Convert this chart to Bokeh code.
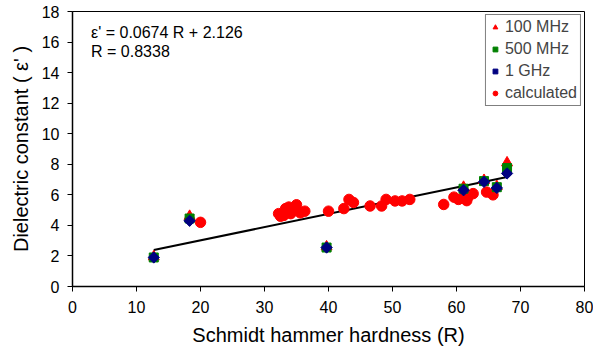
import math
from bokeh.plotting import figure
from bokeh.models import Legend, LegendItem, FixedTicker, Range1d
from bokeh.core.properties import value
from bokeh.embed import file_html
from bokeh.resources import INLINE

# measured dielectric constant at three frequencies
meas_x = [12.7, 18.3, 39.7, 61.1, 64.3, 66.3, 67.9]
mhz100_y = [1.95, 4.6, 2.6, 6.5, 6.95, 6.55, 8.1]
mhz500_y = [1.9, 4.45, 2.55, 6.4, 6.9, 6.5, 7.75]
ghz1_y = [1.9, 4.3, 2.55, 6.3, 6.85, 6.45, 7.4]

# calculated values
calc_x = [20.0, 32.2, 32.5, 33.0, 33.3, 33.8, 34.1, 34.6, 35.0, 35.6, 36.3, 40.0,
          42.4, 43.2, 43.9, 46.5, 48.3, 49.0, 50.4, 51.5, 52.7, 58.0, 59.6, 60.3,
          61.1, 61.4, 61.6, 61.8, 62.6, 64.7, 65.7]
calc_y = [4.2, 4.77, 4.6, 4.65, 5.1, 5.2, 4.77, 5.0, 5.35, 4.82, 4.93, 4.93,
          5.1, 5.7, 5.5, 5.27, 5.27, 5.7, 5.6, 5.6, 5.7, 5.37, 5.85, 5.7,
          5.76, 6.08, 5.62, 5.85, 6.08, 6.18, 6.0]

# trend line as drawn
fit_x = [12.7, 67.9]
fit_y = [2.39, 7.17]

x_ticks = [0, 10, 20, 30, 40, 50, 60, 70, 80]
y_ticks = [0, 2, 4, 6, 8, 10, 12, 14, 16, 18]

eq_lines = ["\u03b5' = 0.0674 R + 2.126", "R = 0.8338"]

FONT = "Liberation Sans"

p = figure(width=593, height=352, output_backend="svg", toolbar_location=None,
           x_range=Range1d(0, 80), y_range=Range1d(0, 18),
           min_border_left=72, min_border_right=9, min_border_top=11, min_border_bottom=66)
p.xgrid.visible = False
p.ygrid.visible = False
p.outline_line_color = "black"
p.outline_line_width = 1

for ax in (p.xaxis[0], p.yaxis[0]):
    ax.axis_line_color = "black"
    ax.axis_line_width = 1.5
    ax.major_tick_in = 0
    ax.major_tick_out = 5
    ax.minor_tick_in = 0
    ax.minor_tick_out = 0
    ax.major_tick_line_color = "black"
    ax.major_label_text_font = FONT
    ax.major_label_text_font_size = "16px"
    ax.major_label_text_color = "black"
    ax.axis_label_text_font = FONT
    ax.axis_label_text_font_size = "20px"
    ax.axis_label_text_font_style = "normal"
    ax.axis_label_text_color = "black"

p.xaxis.ticker = FixedTicker(ticks=x_ticks)
p.yaxis.ticker = FixedTicker(ticks=y_ticks)
p.xaxis.axis_label = "Schmidt hammer hardness (R)"
p.yaxis.axis_label = "Dielectric constant ( \u03b5' )"
p.xaxis.major_label_standoff = 9
p.yaxis.major_label_standoff = 8
p.xaxis.axis_label_standoff = 8
p.yaxis.axis_label_standoff = 7

p.line(fit_x, fit_y, line_color="black", line_width=2)

r_calc = p.scatter(calc_x, calc_y, marker="circle", size=10.5, fill_color="red", line_color="red")
r100 = p.scatter(meas_x, mhz100_y, marker="triangle", size=11, fill_color="red", line_color="red")
r500 = p.scatter(meas_x, mhz500_y, marker="square", size=9, fill_color="green", line_color="green")
r1g = p.scatter(meas_x, ghz1_y, marker="square", angle=math.pi / 4, size=8,
                fill_color="navy", line_color="navy")

p.text(x=[2.9, 2.9], y=[16.63, 15.39], text=eq_lines, text_font=value(FONT),
       text_font_size="16px", text_baseline="middle", text_align="left", text_color="black")

legend = Legend(items=[
    LegendItem(label="100 MHz", renderers=[r100]),
    LegendItem(label="500 MHz", renderers=[r500]),
    LegendItem(label="1 GHz", renderers=[r1g]),
    LegendItem(label="calculated", renderers=[r_calc]),
], location="top_right")
legend.label_text_font = FONT
legend.label_text_font_size = "16px"
legend.label_height = 18
legend.glyph_width = 12
legend.glyph_height = 18
legend.spacing = 4
legend.padding = 3
legend.margin = 3
legend.label_standoff = 4
legend.border_line_color = "black"
legend.border_line_width = 1
legend.background_fill_alpha = 1
p.add_layout(legend)

open("out.html", "w").write(file_html(p, INLINE))
